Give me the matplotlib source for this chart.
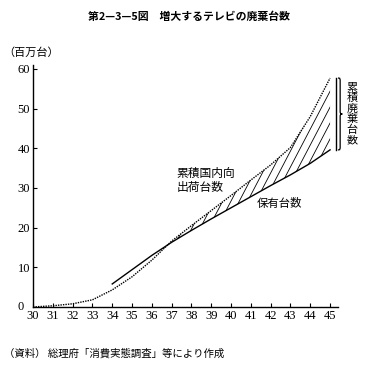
import matplotlib.pyplot as plt
import numpy as np
from matplotlib.path import Path
from matplotlib.patches import PathPatch

plt.rcParams["font.family"] = ["Noto Sans CJK JP", "DejaVu Sans"]

# 昭和 years
years = [30, 31, 32, 33, 34, 35, 36, 37, 38, 39, 40, 41, 42, 43, 44, 45]
# cumulative domestic shipments (millions)
shipped = [0, 0.3, 0.8, 1.8, 4.3, 7.6, 11.8, 16.6, 20.5, 24.3, 28.1, 32.0,
           35.8, 40.2, 48.0, 57.7]
# sets held (millions), from 34 onward
held_years = [34, 35, 36, 37, 38, 39, 40, 41, 42, 43, 44, 45]
held = [5.8, 9.4, 13.0, 16.3, 19.3, 22.2, 25.0, 27.8, 30.6, 33.3, 36.2, 39.6]

fig = plt.figure(figsize=(3.71, 3.65), dpi=100)
ax = fig.add_axes([0.089, 0.159, 0.822, 0.663])

ax.plot(years, shipped, color="black", lw=1.0, linestyle=(0, (1, 0.8)))
ax.plot(held_years, held, color="black", lw=1.0)

# gap between the two = cumulative scrapped sets, hatched with steep lines
sh = np.interp(held_years, years, shipped)
hl = np.array(held)
gap = ax.fill_between(held_years, hl, sh, where=sh >= hl, interpolate=True,
                      facecolor="none", edgecolor="none", linewidth=0)
clip = gap.get_paths()[0]
for xs in np.arange(33.0, 46.0, 0.42):
    ln, = ax.plot([xs, xs + 6.5], [0, 62], color="black", lw=0.6)
    ln.set_clip_path(clip, transform=ax.transData)

# bracket at the right end
x0 = years[-1] + 0.4
y0, y1 = held[-1], shipped[-1]
ax.plot([x0 - 0.12, x0 - 0.12], [y0, y1], color="black", lw=1.0, clip_on=False)
w, d = 0.22, 1.2
ym = (y0 + y1) / 2
xm = x0 + w / 2
verts = [(x0, y1), (xm, y1), (xm, y1), (xm, y1 - d),
         (xm, ym + d),
         (xm, ym), (xm, ym), (x0 + w, ym),
         (xm, ym), (xm, ym), (xm, ym - d),
         (xm, y0 + d),
         (xm, y0), (xm, y0), (x0, y0)]
codes = [Path.MOVETO, Path.CURVE4, Path.CURVE4, Path.CURVE4,
         Path.LINETO,
         Path.CURVE4, Path.CURVE4, Path.CURVE4,
         Path.CURVE4, Path.CURVE4, Path.CURVE4,
         Path.LINETO,
         Path.CURVE4, Path.CURVE4, Path.CURVE4]
ax.add_patch(PathPatch(Path(verts, codes), facecolor="none",
                       edgecolor="black", lw=0.9, clip_on=False))
ax.text(x0 + w + 0.2, ym, "\n".join("累積廃棄台数"), fontsize=8,
        ha="left", va="center", linespacing=1.05)

ax.text(37.25, 32.0, "累積国内向\n出荷台数", fontsize=8.5, ha="left",
        va="center", linespacing=1.1)
ax.text(41.3, 26.2, "保有台数", fontsize=8.2, ha="left", va="center")

ax.set_xlim(30, 45.4)
ax.set_ylim(0, 61)
ax.set_xticks(years)
ax.set_yticks([10, 20, 30, 40, 50, 60])
ax.tick_params(direction="in", length=3, width=0.8, pad=2, labelsize=9)
for lab in ax.get_xticklabels() + ax.get_yticklabels():
    lab.set_fontfamily("Liberation Serif")
ax.text(-0.03, 0, "0", transform=ax.get_yaxis_transform(), fontsize=9,
        family="Liberation Serif", ha="right", va="center")
for s in ("top", "right"):
    ax.spines[s].set_visible(False)
for s in ("left", "bottom"):
    ax.spines[s].set_linewidth(1.0)

fig.text(0.51, 0.955, "第2—3—5図　増大するテレビの廃棄台数", fontsize=7.8,
         fontweight="bold", ha="center", va="center")
fig.text(0.01, 0.855, "（百万台）", fontsize=8, ha="left", va="center")
fig.text(0.012, 0.033, "（資料） 総理府「消費実態調査」等により作成",
         fontsize=7.5, ha="left", va="center")

fig.savefig("out.png", dpi=100)
